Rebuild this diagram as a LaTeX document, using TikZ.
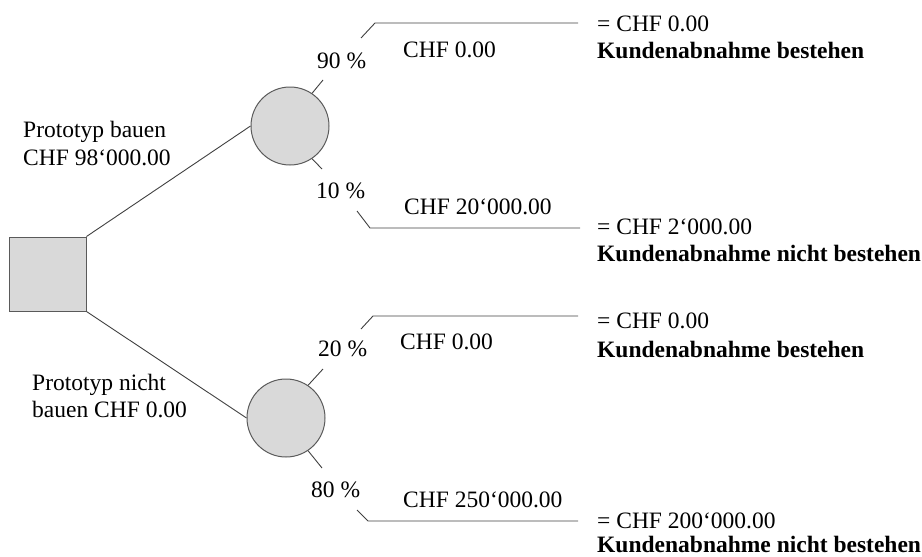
\documentclass[tikz,border=0pt]{standalone}
\usepackage{fontspec}
\setmainfont{Liberation Serif}
\definecolor{shapefill}{HTML}{D9D9D9}
\definecolor{shapeedge}{HTML}{5A5A5A}
\definecolor{linecol}{HTML}{404040}
\begin{document}
\begin{tikzpicture}[x=1pt,y=-1pt,
  txt/.style={anchor=base west, inner sep=0pt, font=\fontsize{23.5}{28}\selectfont},
  res/.style={txt, font=\fontsize{23.5}{28}\selectfont\bfseries},
  decision/.style={draw=shapeedge, fill=shapefill, line width=1pt, inner sep=0pt,
    minimum width=77pt, minimum height=74pt},
  chance/.style={circle, draw=shapeedge, fill=shapefill, line width=1pt, inner sep=0pt,
    minimum size=78pt},
  edge/.style={draw=linecol, line width=0.9pt}]
\useasboundingbox (0,0) rectangle (922,557);

% decision and chance nodes
\node[decision] (d) at (47.5,274) {};
\node[chance] (c1) at (290,126) {};
\node[chance] (c2) at (286,418) {};

\draw[edge] (d.north east) -- (c1.west);
\draw[edge] (d.south east) -- (c2.west);

% short stubs leaving the chance nodes
\coordinate (s1u) at (323,80);
\coordinate (s1d) at (322,169);
\coordinate (s2u) at (323,369);
\coordinate (s2d) at (322,468);
\draw[edge] (c1.56) -- (s1u);
\draw[edge] (c1.-56) -- (s1d);
\draw[edge] (c2.56) -- (s2u);
\draw[edge] (c2.-56) -- (s2d);

% outcome branches
\coordinate (a1) at (361,38);  \coordinate (a2) at (375,23);  \coordinate (a3) at (578,23);
\coordinate (b1) at (357,211); \coordinate (b2) at (370,228); \coordinate (b3) at (580,228);
\coordinate (e1) at (361,329); \coordinate (e2) at (373,316); \coordinate (e3) at (578,316);
\coordinate (f1) at (357,510); \coordinate (f2) at (368,521); \coordinate (f3) at (578,521);
\draw[edge] (a1) -- (a2) -- (a3);
\draw[edge] (b1) -- (b2) -- (b3);
\draw[edge] (e1) -- (e2) -- (e3);
\draw[edge] (f1) -- (f2) -- (f3);

% decision labels
\node[txt] (l1a) at (23,137) {Prototyp bauen};
\node[txt] (l1b) at (23,165) {CHF 98‘000.00};
\node[txt] (l2a) at (32,390) {Prototyp nicht};
\node[txt] (l2b) at (32,417) {bauen CHF 0.00};

% probabilities
\node[txt] (p1) at (317,68) {90 \%};
\node[txt] (p2) at (316,198) {10 \%};
\node[txt] (p3) at (318,356) {20 \%};
\node[txt] (p4) at (311,497) {80 \%};

% branch costs
\node[txt] (k1) at (403,57) {CHF 0.00};
\node[txt] (k2) at (404,214) {CHF 20‘000.00};
\node[txt] (k3) at (400,349) {CHF 0.00};
\node[txt] (k4) at (403,507) {CHF 250‘000.00};

% expected values and outcomes
\node[txt] (r1) at (597,31) {= CHF 0.00};
\node[res] (o1) at (597,58) {Kundenabnahme bestehen};
\node[txt] (r2) at (597,234) {= CHF 2‘000.00};
\node[res] (o2) at (597,261) {Kundenabnahme nicht bestehen};
\node[txt] (r3) at (597,328) {= CHF 0.00};
\node[res] (o3) at (597,357) {Kundenabnahme bestehen};
\node[txt] (r4) at (597,528) {= CHF 200‘000.00};
\node[res] (o4) at (597,552.5) {Kundenabnahme nicht bestehen};
\end{tikzpicture}
\end{document}
